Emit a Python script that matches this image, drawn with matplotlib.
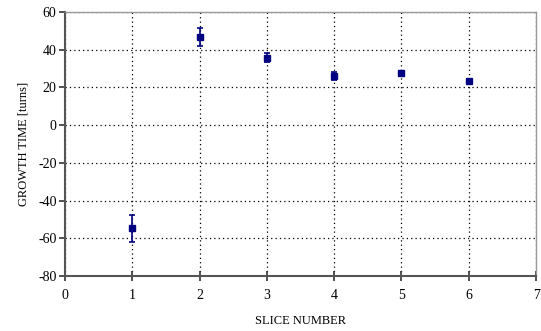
import numpy as np
from matplotlib import pyplot as plt
from matplotlib.ticker import MultipleLocator

plt.rcParams['font.family'] = ['Liberation Serif', 'DejaVu Serif']
plt.rcParams['axes.unicode_minus'] = False

slices = [1, 2, 3, 4, 5, 6]
growth = [-54.7, 46.7, 35.8, 25.8, 27.8, 23.6]
err = [7.1, 4.9, 2.6, 2.1, 0.6, 1.0]

fig = plt.figure(figsize=(5.41, 3.31), dpi=100)
ax = fig.add_axes([0.120, 0.166, 0.871, 0.798])

ax.errorbar(slices, growth, yerr=err, fmt='s', color='#000080', markersize=4.5,
            elinewidth=1.2, capsize=2.2, capthick=1.2, zorder=3)

ax.set_xlim(0, 7)
ax.set_ylim(-80, 60)
ax.xaxis.set_major_locator(MultipleLocator(1))
ax.yaxis.set_major_locator(MultipleLocator(20))
ax.grid(which='major', linestyle=(0, (1, 2.5)), linewidth=0.9, color='black')

for side in ['left', 'bottom']:
    ax.spines[side].set_color('#555555')
    ax.spines[side].set_linewidth(1.5)
for side in ['top', 'right']:
    ax.spines[side].set_color('#999999')
    ax.spines[side].set_linestyle((0, (1, 1)))
    ax.spines[side].set_linewidth(1.0)

ax.tick_params(axis='y', direction='out', length=4, width=1.2, color='#333333', labelsize=10, pad=2)
ax.tick_params(axis='x', direction='inout', length=7, width=1.2, color='#333333', labelsize=10, pad=6)

ax.set_xlabel('SLICE NUMBER', fontsize=9, labelpad=9)
ax.set_ylabel('GROWTH TIME [turns]', fontsize=9, labelpad=6)

fig.savefig('out.png', dpi=100)
